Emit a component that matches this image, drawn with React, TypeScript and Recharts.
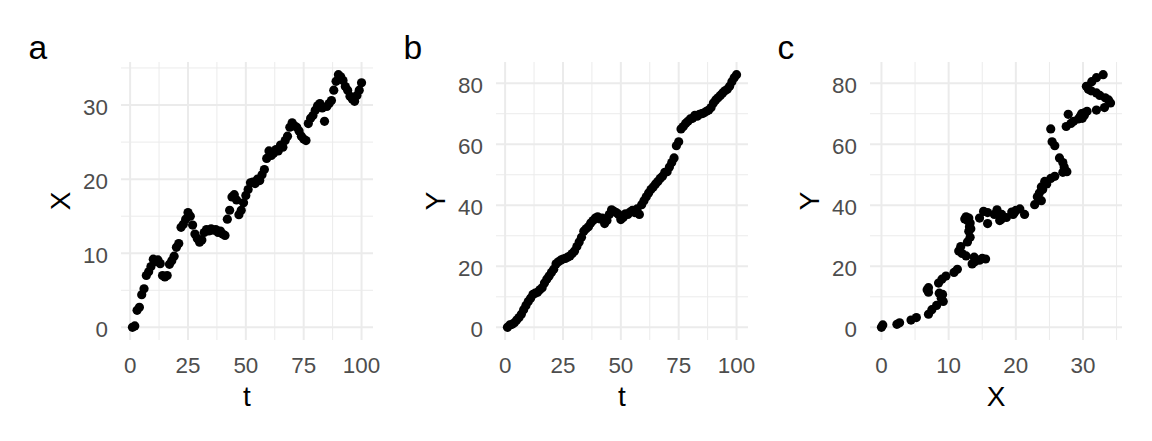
import React from 'react';
import { ScatterChart, Scatter, XAxis, YAxis, CartesianGrid } from 'recharts';

const FONT = '"Liberation Sans", Arial, Helvetica, sans-serif';

const tValues = [
  1, 2, 3, 4, 5, 6, 7, 8, 9, 10,
  11, 12, 13, 14, 15, 16, 17, 18, 19, 20,
  21, 22, 23, 24, 25, 26, 27, 28, 29, 30,
  31, 32, 33, 34, 35, 36, 37, 38, 39, 40,
  41, 42, 43, 44, 45, 46, 47, 48, 49, 50,
  51, 52, 53, 54, 55, 56, 57, 58, 59, 60,
  61, 62, 63, 64, 65, 66, 67, 68, 69, 70,
  71, 72, 73, 74, 75, 76, 77, 78, 79, 80,
  81, 82, 83, 84, 85, 86, 87, 88, 89, 90,
  91, 92, 93, 94, 95, 96, 97, 98, 99, 100,
];

const xValues = [
  0.0, 0.2, 2.3, 2.7, 4.4, 5.2, 7.0, 7.5, 8.2, 9.2,
  8.9, 9.1, 8.6, 7.0, 6.8, 7.0, 8.5, 9.0, 9.6, 10.8,
  11.3, 13.5, 13.9, 14.6, 15.5, 15.0, 13.8, 12.6, 12.0, 11.5,
  11.8, 12.8, 13.2, 13.0, 13.3, 13.1, 13.2, 12.8, 13.0, 12.6,
  12.4, 14.6, 15.8, 17.6, 17.9, 17.2, 15.2, 15.8, 16.8, 17.8,
  18.6, 19.5, 19.6, 19.4, 20.0, 19.8, 20.6, 21.3, 22.8, 23.8,
  23.2, 23.5, 24.0, 23.8, 24.6, 24.3, 25.2, 25.8, 27.0, 27.6,
  27.2, 27.0, 26.5, 25.8, 25.4, 25.2, 27.5, 28.2, 28.6, 29.3,
  29.9, 30.2, 29.6, 27.8, 29.8, 30.2, 30.6, 32.0, 33.2, 34.1,
  33.8, 33.3, 32.5, 32.0, 31.2, 30.8, 30.5, 31.3, 32.0, 33.0,
];

const yValues = [
  0.0, 0.8, 1.0, 1.5, 2.4, 3.2, 4.3, 5.8, 7.2, 8.5,
  9.5, 10.8, 11.2, 11.5, 12.3, 13.0, 14.5, 15.8, 16.8, 18.0,
  19.0, 20.8, 21.5, 22.0, 22.4, 22.6, 23.0, 23.4, 24.2, 25.0,
  26.5, 28.0, 29.5, 31.5, 32.3, 33.0, 34.2, 35.0, 35.8, 36.2,
  35.5, 35.8, 34.0, 35.0, 37.0, 38.5, 38.0, 37.6, 37.0, 35.3,
  36.0, 37.2, 37.0, 37.8, 38.3, 37.6, 38.8, 37.0, 40.2, 41.5,
  42.8, 44.0, 45.2, 46.0, 47.0, 47.8, 48.8, 49.5, 50.8, 51.0,
  52.5, 54.0, 55.5, 59.5, 60.8, 65.0, 65.8, 66.8, 67.5, 68.3,
  68.5, 69.5, 69.2, 69.8, 70.0, 70.3, 70.8, 71.2, 72.0, 73.5,
  74.5, 75.2, 76.0, 76.8, 77.5, 78.0, 79.0, 80.5, 81.8, 82.8,
];

const tTicks = [0, 25, 50, 75, 100];
const tMinor = [12.5, 37.5, 62.5, 87.5];
const xTicks = [0, 10, 20, 30];
const xMinor = [5, 15, 25, 35];
const yTicks = [0, 20, 40, 60, 80];
const yMinor = [10, 30, 50, 70];

const data = tValues.map((t, i) => ({ t, X: xValues[i], Y: yValues[i] }));

const expand = (vals: number[]): [number, number] => {
  const lo = Math.min(...vals);
  const hi = Math.max(...vals);
  const d = (hi - lo) * 0.05;
  return [lo - d, hi + d];
};

const TICK_FS = 22.4;

const XTick = (props: any) => (
  <text
    x={props.x}
    y={props.y}
    dy={TICK_FS * 0.71}
    textAnchor="middle"
    fontSize={TICK_FS}
    fill="#4D4D4D"
    fontFamily={FONT}
  >
    {props.payload.value}
  </text>
);

const YTick = (props: any) => (
  <text
    x={props.x}
    y={props.y}
    dy={10}
    textAnchor="end"
    fontSize={TICK_FS}
    fill="#4D4D4D"
    fontFamily={FONT}
  >
    {props.payload.value}
  </text>
);

const Dot = (props: any) => <circle cx={props.cx} cy={props.cy} r={4.6} fill="#000000" />;

type PanelProps = {
  left: number;
  xKey: string;
  yKey: string;
  xMajor: number[];
  xMin: number[];
  yMajor: number[];
  yMin: number[];
  xTitle: string;
  yTitle: string;
  tag: string;
};

const W = 384;
const H = 441;

function Panel({ left, xKey, yKey, xMajor, xMin, yMajor, yMin, xTitle, yTitle, tag }: PanelProps) {
  const xDom = expand(data.map((d: any) => d[xKey]));
  const yDom = expand(data.map((d: any) => d[yKey]));
  return (
    <div style={{ position: 'absolute', left, top: 0, width: W, height: H }}>
      <ScatterChart width={W} height={H} margin={{ top: 62, right: 11, bottom: 0, left: 0 }}>
        <CartesianGrid
          stroke="#EBEBEB"
          strokeWidth={1}
          horizontalValues={yMin}
          verticalValues={xMin}
        />
        <CartesianGrid
          stroke="#EBEBEB"
          strokeWidth={2}
          horizontalValues={yMajor}
          verticalValues={xMajor}
        />
        <XAxis
          type="number"
          dataKey={xKey}
          domain={xDom}
          ticks={xMajor}
          interval={0}
          allowDataOverflow
          axisLine={false}
          tickLine={false}
          tickSize={0}
          tickMargin={17}
          height={101}
          tick={XTick}
        />
        <YAxis
          type="number"
          dataKey={yKey}
          domain={yDom}
          ticks={yMajor}
          interval={0}
          allowDataOverflow
          axisLine={false}
          tickLine={false}
          tickSize={0}
          tickMargin={13}
          width={121}
          tick={YTick}
        />
        <Scatter data={data} shape={Dot} isAnimationActive={false} />
      </ScatterChart>
      <svg
        width={W}
        height={H}
        style={{ position: 'absolute', left: 0, top: 0, pointerEvents: 'none' }}
      >
        <text x={28.5} y={59} fontSize={33.6} fontFamily={FONT} fill="#000">
          {tag}
        </text>
        <text
          transform="translate(70, 201) rotate(-90)"
          textAnchor="middle"
          fontSize={28}
          fontFamily={FONT}
          fill="#000"
        >
          {yTitle}
        </text>
        <text x={247} y={406} textAnchor="middle" fontSize={28} fontFamily={FONT} fill="#000">
          {xTitle}
        </text>
      </svg>
    </div>
  );
}

export default function App() {
  return (
    <div style={{ position: 'absolute', left: 0, top: 0, width: 1152, height: 441, background: '#FFFFFF', fontFamily: FONT }}>
      <Panel left={0} xKey="t" yKey="X" xMajor={tTicks} xMin={tMinor} yMajor={xTicks} yMin={xMinor} xTitle="t" yTitle="X" tag="a" />
      <Panel left={375} xKey="t" yKey="Y" xMajor={tTicks} xMin={tMinor} yMajor={yTicks} yMin={yMinor} xTitle="t" yTitle="Y" tag="b" />
      <Panel left={749} xKey="X" yKey="Y" xMajor={xTicks} xMin={xMinor} yMajor={yTicks} yMin={yMinor} xTitle="X" yTitle="Y" tag="c" />
    </div>
  );
}
